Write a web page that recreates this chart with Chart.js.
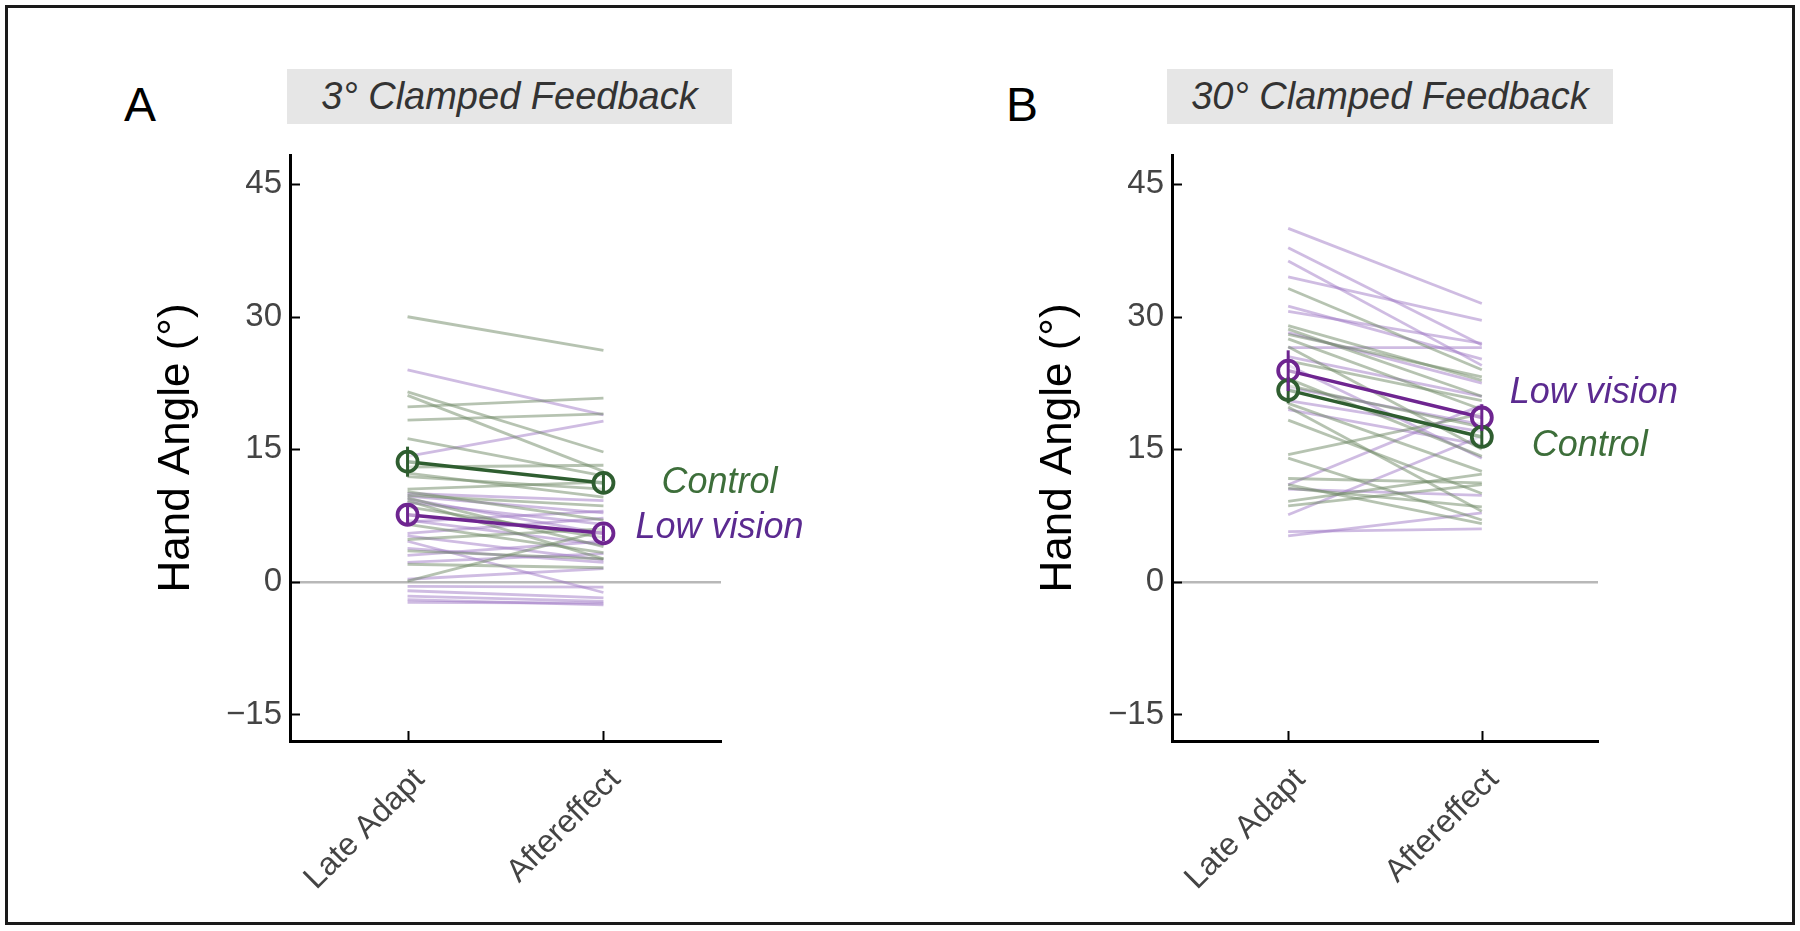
<!DOCTYPE html>
<html><head><meta charset="utf-8">
<script src="https://cdn.jsdelivr.net/npm/chart.js@4.4.1/dist/chart.umd.min.js"></script>
<style>
html,body{margin:0;padding:0;background:#fff;}
body{width:1800px;height:931px;position:relative;overflow:hidden;font-family:"Liberation Sans",Arial,sans-serif;}
#frame{position:absolute;left:5px;top:5px;width:1790px;height:920px;border:3px solid #1a1a1a;box-sizing:border-box;}
.tbox{position:absolute;background:#e6e6e6;color:#333;font-style:italic;font-size:38px;display:flex;align-items:center;justify-content:center;height:55px;top:69px;}
.plabel{position:absolute;font-size:48px;color:#000;line-height:1;top:81px;}
canvas{position:absolute;top:0;}
</style></head>
<body>
<div id="frame"></div>
<div class="tbox" style="left:287px;width:445px;">3° Clamped Feedback</div>
<div class="tbox" style="left:1167px;width:446px;">30° Clamped Feedback</div>
<div class="plabel" style="left:124px;">A</div>
<div class="plabel" style="left:1006px;">B</div>
<canvas id="cA" width="720" height="931" style="left:140px"></canvas>
<canvas id="cB" width="720" height="931" style="left:1022px"></canvas>
<script>
// ---------- data ----------
const categories = ['Late Adapt', 'Aftereffect'];
const catPos = [1, 2];
const yTickValues = [-15, 0, 15, 30, 45];

// Panel A: 3° clamped feedback (individual participants)
const ctrlLateA  = [30.0, 21.5, 21.1, 19.8, 18.3, 16.2, 13.0, 12.3, 11.9, 10.5, 10.2, 9.8, 9.5, 9.2, 6.5, 4.8, 3.5, 0.1, 2.0, 8.5];
const ctrlAfterA = [26.2, 14.7, 12.5, 20.8, 19.0, 12.0, 13.2, 9.6, 10.5, 11.3, 7.0, 8.6, 4.0, 2.6, 3.3, 6.0, 2.6, 5.8, 1.6, 5.0];
const lvLateA    = [24.0, 14.2, 10.0, 9.7, 9.0, 7.0, 6.8, 5.5, 5.2, 4.6, 3.8, 2.2, 0.3, -0.5, -1.0, -1.6, -2.0, -2.3, 9.4, 3.0];
const lvAfterA   = [18.9, 18.2, 9.2, 7.8, 6.5, 4.2, 8.0, 7.2, 2.5, -1.2, 2.2, 3.2, 1.5, -0.6, -1.8, -2.2, -2.6, -2.4, 5.5, 4.6];
const ctrlMeanA = [13.6, 11.2];
const ctrlSemA  = [1.7, 1.0];
const lvMeanA   = [7.6, 5.5];
const lvSemA    = [1.0, 0.9];

// Panel B: 30° clamped feedback (individual participants)
const ctrlLateB  = [33.2, 29.0, 28.6, 28.0, 27.5, 26.6, 25.0, 23.0, 22.2, 20.2, 19.8, 18.3, 14.4, 14.0, 11.7, 11.0, 10.6, 9.1, 8.6];
const ctrlAfterB = [24.0, 22.8, 21.0, 23.2, 19.5, 15.0, 20.5, 14.2, 17.5, 12.5, 8.0, 10.0, 19.0, 7.0, 11.2, 6.6, 8.5, 12.2, 11.0];
const lvLateB    = [40.0, 37.8, 36.3, 34.5, 31.2, 30.6, 28.2, 26.5, 25.5, 24.5, 20.5, 11.0, 10.5, 7.6, 5.7, 5.2, 19.5, 22.0];
const lvAfterB   = [31.5, 26.8, 24.5, 29.6, 25.2, 27.0, 22.5, 26.5, 21.0, 14.0, 17.0, 20.0, 9.8, 16.5, 6.0, 7.8, 15.5, 17.8];
const ctrlMeanB = [21.7, 16.4];
const ctrlSemB  = [1.5, 1.0];
const lvMeanB   = [23.9, 18.6];
const lvSemB    = [2.3, 1.5];

// ---------- styling ----------
const FAMILY = '"Liberation Sans", Arial, sans-serif';
const GREEN = '#2f5e30';
const PURPLE = '#6e2590';
const GREEN_TXT = '#3d6e3a';
const PURPLE_TXT = '#5b2a90';
const GREEN_LIGHT = 'rgba(110,135,100,0.5)';
const PURPLE_LIGHT = 'rgba(155,115,195,0.48)';

function indiv(a, b, color) {
  return { data: [{x: catPos[0], y: a}, {x: catPos[1], y: b}], borderColor: color,
           borderWidth: 2.8, pointRadius: 0, order: 2, tension: 0 };
}
function meanDs(m, sem, color) {
  return { data: catPos.map((x, i) => ({x, y: m[i]})), sem, borderColor: color, borderWidth: 3.5,
           pointRadius: 10, pointBorderWidth: 3.8, pointBackgroundColor: 'rgba(255,255,255,0.55)',
           pointBorderColor: color, order: 0, tension: 0 };
}

const decor = {
  id: 'decor',
  afterDatasetsDraw(chart) {
    const {ctx, scales: {x, y}} = chart;
    chart.data.datasets.forEach(ds => {
      if (!ds.sem) return;
      ctx.save();
      ctx.strokeStyle = ds.borderColor; ctx.lineWidth = 3;
      ds.data.forEach((p, i) => {
        const px = x.getPixelForValue(p.x);
        ctx.beginPath();
        ctx.moveTo(px, y.getPixelForValue(p.y - ds.sem[i]));
        ctx.lineTo(px, y.getPixelForValue(p.y + ds.sem[i]));
        ctx.stroke();
      });
      ctx.restore();
    });
  },
  afterDraw(chart, args, opts) {
    const {ctx, scales: {x, y}, chartArea} = chart;
    ctx.save();
    ctx.strokeStyle = '#000'; ctx.lineWidth = 2;
    y.ticks.forEach(t => {
      const py = Math.round(y.getPixelForValue(t.value)) + 0.5;
      ctx.beginPath(); ctx.moveTo(chartArea.left, py); ctx.lineTo(chartArea.left + 10, py); ctx.stroke();
    });
    x.ticks.forEach(t => {
      const px = Math.round(x.getPixelForValue(t.value)) + 0.5;
      ctx.beginPath(); ctx.moveTo(px, chartArea.bottom); ctx.lineTo(px, chartArea.bottom - 10); ctx.stroke();
    });
    (opts.labels || []).forEach(l => {
      ctx.font = 'italic 36px ' + FAMILY;
      ctx.fillStyle = l.color; ctx.textBaseline = 'middle'; ctx.textAlign = 'left';
      ctx.fillText(l.text, x.getPixelForValue(catPos[1]) + l.dx, y.getPixelForValue(l.yv) + l.dy);
    });
    ctx.restore();
  }
};

function makeChart(id, d, padRight, labels) {
  const datasets = [];
  d.ctrlLate.forEach((v, i) => datasets.push(indiv(v, d.ctrlAfter[i], GREEN_LIGHT)));
  d.lvLate.forEach((v, i) => datasets.push(indiv(v, d.lvAfter[i], PURPLE_LIGHT)));
  datasets.push(meanDs(d.ctrlMean, d.ctrlSem, GREEN));
  datasets.push(meanDs(d.lvMean, d.lvSem, PURPLE));
  return new Chart(document.getElementById(id), {
    type: 'line',
    data: { datasets },
    options: {
      responsive: false, animation: false, devicePixelRatio: 1,
      layout: { padding: { left: 0, top: 155, right: padRight, bottom: 40 } },
      plugins: { legend: { display: false }, tooltip: { enabled: false }, decor: { labels } },
      scales: {
        x: {
          type: 'linear', min: 0.4, max: 2.6,
          afterBuildTicks: s => { s.ticks = catPos.map(v => ({value: v})); },
          ticks: {
            callback: v => { const i = catPos.indexOf(v); return i >= 0 ? categories[i] : ''; },
            maxRotation: 45, minRotation: 45, autoSkip: false,
            font: { size: 32, family: FAMILY }, color: '#444', padding: 12, labelOffset: 12
          },
          grid: { display: false },
          border: { display: true, color: '#000', width: 3 },
          afterFit: s => { s.height = 150; s.paddingLeft = 0; s.paddingRight = 0; }
        },
        y: {
          min: -18, max: 48.3,
          afterBuildTicks: s => { s.ticks = yTickValues.map(v => ({value: v})); },
          ticks: {
            callback: v => v < 0 ? '\u2212' + Math.abs(v) : String(v),
            font: { size: 33, family: FAMILY }, color: '#444', padding: 8
          },
          grid: { drawTicks: false, lineWidth: 2.5,
                  color: c => (c.tick && c.tick.value === 0) ? '#b8b8b8' : 'rgba(0,0,0,0)' },
          border: { display: true, color: '#000', width: 3 },
          title: { display: true, text: 'Hand Angle (°)', font: { size: 44, family: FAMILY },
                   color: '#000', padding: { top: 10, bottom: 0 } },
          afterFit: s => { s.width = 150; s.paddingTop = 0; s.paddingBottom = 0; }
        }
      }
    },
    plugins: [decor]
  });
}

makeChart('cA', {
  ctrlLate: ctrlLateA, ctrlAfter: ctrlAfterA, lvLate: lvLateA, lvAfter: lvAfterA,
  ctrlMean: ctrlMeanA, ctrlSem: ctrlSemA, lvMean: lvMeanA, lvSem: lvSemA
}, 139, [
  { text: 'Control', color: GREEN_TXT, dx: 58, yv: ctrlMeanA[1], dy: 0 },
  { text: 'Low vision', color: PURPLE_TXT, dx: 32, yv: lvMeanA[1], dy: -5 }
]);

makeChart('cB', {
  ctrlLate: ctrlLateB, ctrlAfter: ctrlAfterB, lvLate: lvLateB, lvAfter: lvAfterB,
  ctrlMean: ctrlMeanB, ctrlSem: ctrlSemB, lvMean: lvMeanB, lvSem: lvSemB
}, 144, [
  { text: 'Low vision', color: PURPLE_TXT, dx: 28, yv: lvMeanB[1], dy: -25 },
  { text: 'Control', color: GREEN_TXT, dx: 50, yv: ctrlMeanB[1], dy: 9 }
]);
</script>
</body></html>
